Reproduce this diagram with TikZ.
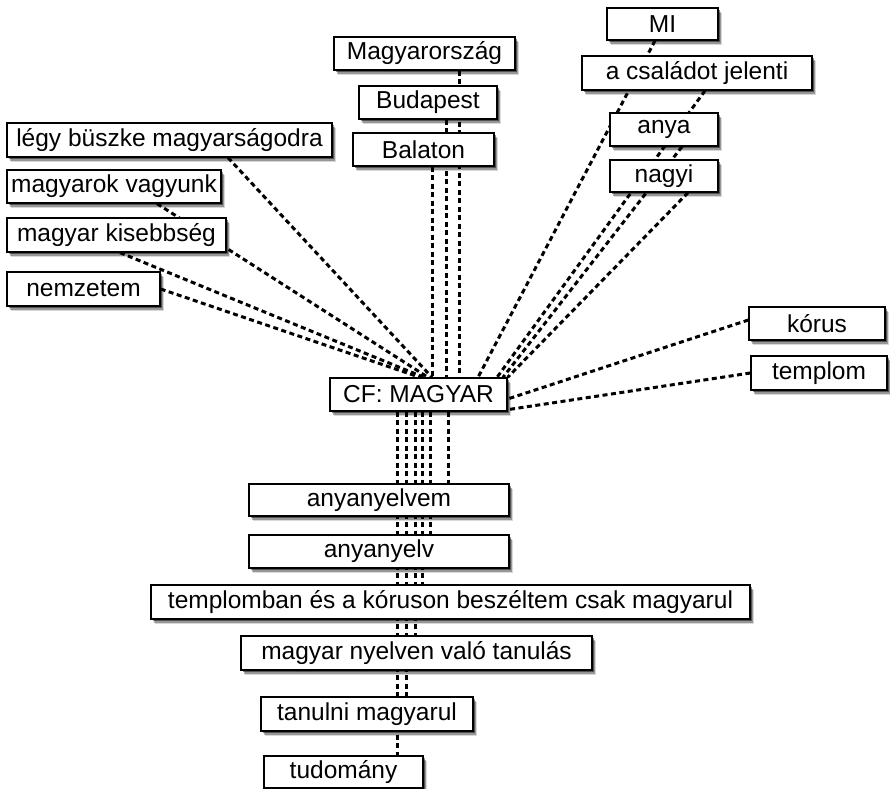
\documentclass[tikz,border=0pt]{standalone}
\usepackage{fontspec}
\setmainfont{Liberation Sans}
\usetikzlibrary{shadows}
\pgfdeclarelayer{bg}
\pgfsetlayers{bg,main}
\begin{document}
\begin{tikzpicture}[x=1pt,y=-1pt,
  box/.style={draw=black,line width=1.3pt,fill=white,inner sep=0pt,
    font=\fontsize{24.5}{28}\selectfont,
    drop shadow={shadow xshift=3.5pt,shadow yshift=-5pt,fill=black,opacity=.15},
    drop shadow={shadow xshift=2.5pt,shadow yshift=-3.5pt,fill=black,opacity=.3},
    drop shadow={shadow xshift=1.5pt,shadow yshift=-2pt,fill=black,opacity=.45}},
  link/.style={draw=black,line width=3pt,dash pattern=on 5pt off 3.5pt}]
\useasboundingbox (0,0) rectangle (890,788);
% nodes
\node[box,minimum width=111pt,minimum height=32pt] (mi) at (662.5,24) {MI};
\node[box,minimum width=230pt,minimum height=34pt] (fam) at (697,73) {a családot jelenti};
\node[box,minimum width=108pt,minimum height=33pt] (anya) at (664,129.5) {anya};
\node[box,minimum width=108pt,minimum height=32pt] (nagyi) at (664,176) {nagyi};
\node[box,minimum width=181pt,minimum height=33pt] (mo) at (424.5,53.5) {Magyarország};
\node[box,minimum width=138pt,minimum height=33pt] (bp) at (428,102.5) {Budapest};
\node[box,minimum width=141pt,minimum height=33pt] (bal) at (423.5,149.5) {Balaton};
\node[box,minimum width=325pt,minimum height=34pt] (legy) at (169.5,140) {légy büszke magyarságodra};
\node[box,minimum width=214pt,minimum height=33pt] (mv) at (114,186.5) {magyarok vagyunk};
\node[box,minimum width=219pt,minimum height=34pt] (mk) at (116.5,235) {magyar kisebbség};
\node[box,minimum width=153pt,minimum height=34pt] (nem) at (83.5,289) {nemzetem};
\node[box,minimum width=136pt,minimum height=33pt] (korus) at (817,323.5) {kórus};
\node[box,minimum width=136pt,minimum height=34pt] (templom) at (819,373) {templom};
\node[box,minimum width=177pt,minimum height=33pt] (cf) at (418.5,394.5) {CF: MAGYAR};
\node[box,minimum width=260pt,minimum height=32pt] (any1) at (379,500) {anyanyelvem};
\node[box,minimum width=260pt,minimum height=33pt] (any2) at (379,551.5) {anyanyelv};
\node[box,minimum width=599pt,minimum height=34pt] (tkr) at (450.5,602) {templomban és a kóruson beszéltem csak magyarul};
\node[box,minimum width=351pt,minimum height=34pt] (mnv) at (416.5,653) {magyar nyelven való tanulás};
\node[box,minimum width=212pt,minimum height=34pt] (tan) at (367,714) {tanulni magyarul};
\node[box,minimum width=159pt,minimum height=32pt] (tud) at (343.5,772) {tudomány};
% connectors
\begin{pgfonlayer}{bg}
\draw[link] ([xshift=58.5pt]legy.south) -- ([xshift=13.5pt]cf.north);
\draw[link] ([xshift=43pt]mv.south) -- ([xshift=9.5pt]cf.north);
\draw[link] ([xshift=3.5pt]mk.south) -- ([xshift=5.5pt]cf.north);
\draw[link] (nem.east) -- ([xshift=1.5pt]cf.north);
\draw[link] ([xshift=8.5pt]bal.south) -- ([xshift=13.5pt]cf.north);
\draw[link] ([xshift=18pt]bp.south) -- ([xshift=27.5pt]cf.north);
\draw[link] ([xshift=34.5pt]mo.south) -- ([xshift=40.5pt]cf.north);
\draw[link] ([xshift=-7.5pt]mi.south) -- ([xshift=59.5pt]cf.north);
\draw[link] ([xshift=8pt]fam.south) -- ([xshift=78.5pt]cf.north);
\draw[link] ([xshift=18pt]anya.south) -- ([xshift=84.5pt]cf.north);
\draw[link] ([xshift=24pt]nagyi.south) -- (cf.north east);
\draw[link] ([yshift=3.5pt]korus.west) -- ([yshift=-4.5pt]cf.east);
\draw[link] (templom.west) -- ([yshift=2pt]cf.south east);
\draw[link] ([xshift=29.5pt]cf.south) -- ([xshift=69pt]any1.north);
\draw[link] ([xshift=11.5pt]cf.south) -- ([xshift=51pt]any2.north);
\draw[link] ([xshift=3.5pt]cf.south) -- ([xshift=-28.5pt]tkr.north);
\draw[link] ([xshift=-3.5pt]cf.south) -- ([xshift=-1.5pt]mnv.north);
\draw[link] ([xshift=-12.5pt]cf.south) -- ([xshift=39pt]tan.north);
\draw[link] ([xshift=-21.5pt]cf.south) -- ([xshift=53.5pt]tud.north);
\end{pgfonlayer}
\end{tikzpicture}
\end{document}
